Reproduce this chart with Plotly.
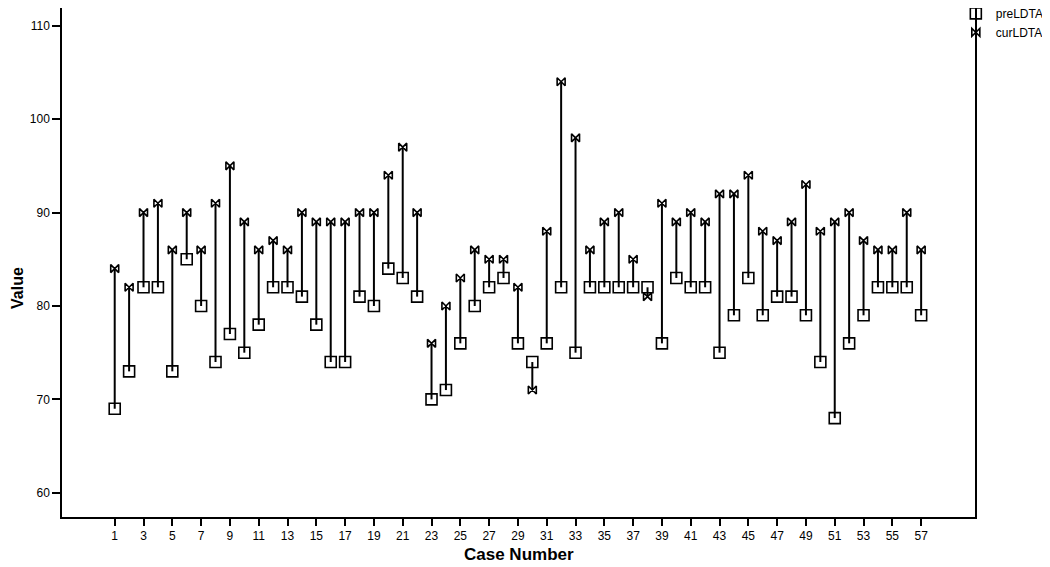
import plotly.graph_objects as go

case_number = list(range(1, 58))
pre_ldta = [69, 73, 82, 82, 73, 85, 80, 74, 77, 75, 78, 82, 82, 81, 78, 74, 74, 81, 80, 84,
            83, 81, 70, 71, 76, 80, 82, 83, 76, 74, 76, 82, 75, 82, 82, 82, 82, 82, 76, 83,
            82, 82, 75, 79, 83, 79, 81, 81, 79, 74, 68, 76, 79, 82, 82, 82, 79]
cur_ldta = [84, 82, 90, 91, 86, 90, 86, 91, 95, 89, 86, 87, 86, 90, 89, 89, 89, 90, 90, 94,
            97, 90, 76, 80, 83, 86, 85, 85, 82, 71, 88, 104, 98, 86, 89, 90, 85, 81, 91, 89,
            90, 89, 92, 92, 94, 88, 87, 89, 93, 88, 89, 90, 87, 86, 86, 90, 86]
x_ticks = list(range(1, 58, 2))
y_ticks = [60, 70, 80, 90, 100, 110]

# drop lines between the two values of each case
line_x, line_y = [], []
for c, p, q in zip(case_number, pre_ldta, cur_ldta):
    line_x += [c, c, None]
    line_y += [p, q, None]

fig = go.Figure()
fig.add_trace(go.Scatter(x=line_x, y=line_y, mode='lines', showlegend=False,
                         line=dict(color='black', width=2), hoverinfo='skip'))
fig.add_trace(go.Scatter(x=case_number, y=pre_ldta, mode='markers', name='preLDTA',
                         marker=dict(symbol='square-open', size=11, color='black',
                                     line=dict(width=1.6))))
fig.add_trace(go.Scatter(x=case_number, y=cur_ldta, mode='markers', name='curLDTA',
                         marker=dict(symbol='bowtie-open', size=8, color='black',
                                     line=dict(width=1.6))))

# page body has an 8px margin, so the figure is a bit smaller than the window
fig.update_layout(
    width=1042, height=559,
    margin=dict(l=54, r=75, t=0, b=50, autoexpand=False),
    paper_bgcolor='white', plot_bgcolor='white',
    font=dict(family='Liberation Sans, Arial', size=12, color='black'),
    legend=dict(x=0.979, y=1.018, xanchor='left', yanchor='top', bgcolor='rgba(0,0,0,0)',
                font=dict(size=12), itemwidth=30, tracegroupgap=0),
    xaxis=dict(range=[-2.66, 60.74], tickvals=x_ticks, ticks='outside', ticklen=7,
               tickwidth=1.5, tickcolor='black', showgrid=False, zeroline=False,
               showline=True, linecolor='black', linewidth=1.5, mirror=True),
    yaxis=dict(range=[57.41, 111.9], tickvals=y_ticks, ticks='outside', ticklen=8,
               tickwidth=1.5, tickcolor='black', showgrid=False, zeroline=False,
               showline=True, linecolor='black', linewidth=1.5, mirror=True),
    annotations=[
        dict(text='<b>Case Number</b>', xref='paper', yref='paper', x=0.5, y=-0.0736,
             showarrow=False, font=dict(size=17), xanchor='center', yanchor='middle'),
        dict(text='<b>Value</b>', xref='paper', yref='paper', x=-0.0482, y=0.45,
             showarrow=False, font=dict(size=16), textangle=-90,
             xanchor='center', yanchor='middle'),
    ],
)

fig.write_html("out.html")
